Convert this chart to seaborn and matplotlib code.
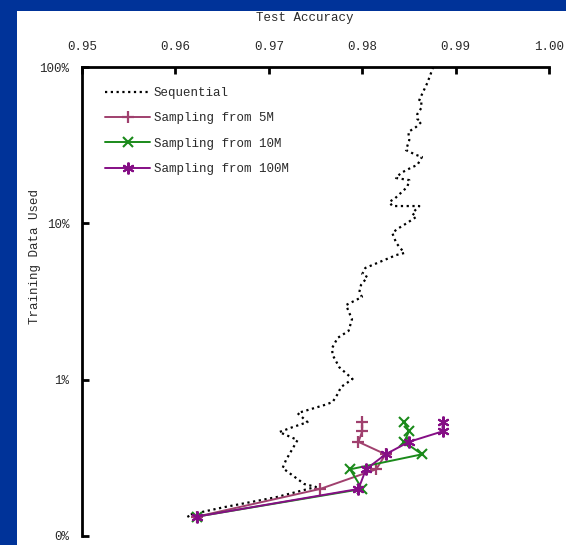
import matplotlib
matplotlib.use("Agg")
import matplotlib.pyplot as plt
import seaborn as sns
import numpy as np

# ---- data ----
seq_acc = [0.98761, 0.98697, 0.98611, 0.98633, 0.98633, 0.98590, 0.98590, 0.98633,
           0.98576, 0.98494, 0.98504, 0.98469, 0.98576, 0.98640, 0.98590, 0.98536,
           0.98415, 0.98362, 0.98504, 0.98483, 0.98354, 0.98290, 0.98322, 0.98611,
           0.98536, 0.98579, 0.98480, 0.98376, 0.98322, 0.98365, 0.98451, 0.98365,
           0.98033, 0.98001, 0.98055, 0.97987, 0.97969, 0.97998, 0.97827, 0.97862,
           0.97891, 0.97854, 0.97737, 0.97677, 0.97683, 0.97755, 0.97897, 0.97773,
           0.97737, 0.97683, 0.97594, 0.97308, 0.97415, 0.97255, 0.97112, 0.97308,
           0.97184, 0.97148, 0.97380, 0.97505, 0.97077, 0.96524, 0.96131, 0.96149]
seq_pct = [100.0, 79.0, 61.5, 61.5, 54.7, 50.0, 46.5, 44.5,
           41.3, 38.4, 34.1, 29.4, 27.4, 26.6, 23.6, 22.9,
           21.0, 19.5, 18.9, 17.1, 14.5, 13.7, 12.9, 12.9,
           11.6, 11.0, 10.05, 9.2, 8.67, 7.48, 6.46, 6.27,
           5.18, 4.74, 4.53, 4.03, 3.63, 3.38, 3.00, 2.67,
           2.44, 2.05, 1.85, 1.59, 1.44, 1.20, 1.01, 0.897,
           0.809, 0.719, 0.688, 0.611, 0.535, 0.497, 0.462, 0.411,
           0.306, 0.272, 0.215, 0.206, 0.177, 0.153, 0.136, 0.130]

samp_pct = [0.133, 0.200, 0.267, 0.333, 0.400, 0.467, 0.533]
s5m_acc = [0.9623, 0.9755, 0.9815, 0.9825, 0.9796, 0.9800, 0.9800]
s10m_acc = [0.9623, 0.9800, 0.9787, 0.9864, 0.9845, 0.9850, 0.9845]
s100m_acc = [0.9623, 0.9796, 0.9804, 0.9825, 0.9850, 0.9886, 0.9886]

x_ticks = [0.95, 0.96, 0.97, 0.98, 0.99, 1.00]
x_ticklabels = ["0.95", "0.96", "0.97", "0.98", "0.99", "1.00"]
y_ticks = [0.1, 1, 10, 100]
y_ticklabels = ["0%", "1%", "10%", "100%"]

labels = ["Sequential", "Sampling from 5M", "Sampling from 10M", "Sampling from 100M"]

# ---- style ----
sns.set_style("white")
plt.rcParams["font.family"] = ["Liberation Mono", "DejaVu Sans"]
txt_color = "#2a2a2a"
c5, c10, c100 = "#a0406e", "#1a8a1a", "#850e85"

W, H = 566, 545
fig = plt.figure(figsize=(W / 100, H / 100), dpi=100)
fig.patch.set_facecolor("#003399")
bg = fig.add_axes([17 / W, 0, 1 - 17 / W, 1 - 11 / H], zorder=-5)
bg.set_facecolor("white")
bg.set_xticks([])
bg.set_yticks([])
for s in bg.spines.values():
    s.set_visible(False)

x0, x1 = 82, 549
y0, y1 = 67, 536
ax = fig.add_axes([x0 / W, 1 - y1 / H, (x1 - x0) / W, (y1 - y0) / H], zorder=1)
ax.set_facecolor("none")

sns.lineplot(x=seq_acc, y=seq_pct, sort=False, estimator=None, ax=ax,
             color="black", linestyle=(0, (1, 1.6)), linewidth=1.6, label=labels[0])
sns.lineplot(x=s5m_acc, y=samp_pct, sort=False, estimator=None, ax=ax,
             color=c5, linewidth=1.4, marker="+", markersize=8.5,
             markeredgewidth=1.6, markeredgecolor=c5, label=labels[1])
sns.lineplot(x=s10m_acc, y=samp_pct, sort=False, estimator=None, ax=ax,
             color=c10, linewidth=1.4, marker="x", markersize=6.5,
             markeredgewidth=1.5, markeredgecolor=c10, label=labels[2])
sns.lineplot(x=s100m_acc, y=samp_pct, sort=False, estimator=None, ax=ax,
             color=c100, linewidth=1.4, marker=(6, 2, 0), markersize=8.5,
             markeredgewidth=1.5, markeredgecolor=c100, label=labels[3])

ax.set_yscale("log")
ax.set_xlim(0.95, 1.00)
ax.set_ylim(0.1, 100)
ax.set_xticks(x_ticks)
ax.set_xticklabels(x_ticklabels)
ax.set_yticks(y_ticks)
ax.set_yticklabels(y_ticklabels)
ax.yaxis.set_minor_locator(matplotlib.ticker.NullLocator())
ax.xaxis.tick_top()
ax.tick_params(axis="x", which="major", direction="in", length=5, width=2,
               color="black", pad=10, labelsize=9, labelcolor=txt_color,
               top=True, bottom=False)
ax.tick_params(axis="y", which="major", direction="in", length=5, width=2,
               color="black", pad=9, labelsize=9, labelcolor=txt_color,
               left=True, right=False)
for side in ["right", "bottom"]:
    ax.spines[side].set_visible(False)
for side in ["top", "left"]:
    ax.spines[side].set_visible(True)
    ax.spines[side].set_color("black")
    ax.spines[side].set_linewidth(2)
ax.set_xlabel("")
ax.set_ylabel("")

fig.text(305 / W, 1 - 18 / H, "Test Accuracy", ha="center", va="center",
         fontsize=9, color=txt_color)
fig.text(35 / W, 1 - 257 / H, "Training Data Used", ha="center", va="center",
         rotation=90, fontsize=9, color=txt_color)

leg = ax.legend(loc="upper left", bbox_to_anchor=((105 - x0) / (x1 - x0), 1 - (87 - y0) / (y1 - y0)),
                frameon=False, fontsize=9, handlelength=3.6, handletextpad=0.3,
                labelspacing=1.07, borderaxespad=0, borderpad=0, numpoints=1)
for t in leg.get_texts():
    t.set_color(txt_color)

fig.savefig("out.png", dpi=100, facecolor=fig.get_facecolor())
